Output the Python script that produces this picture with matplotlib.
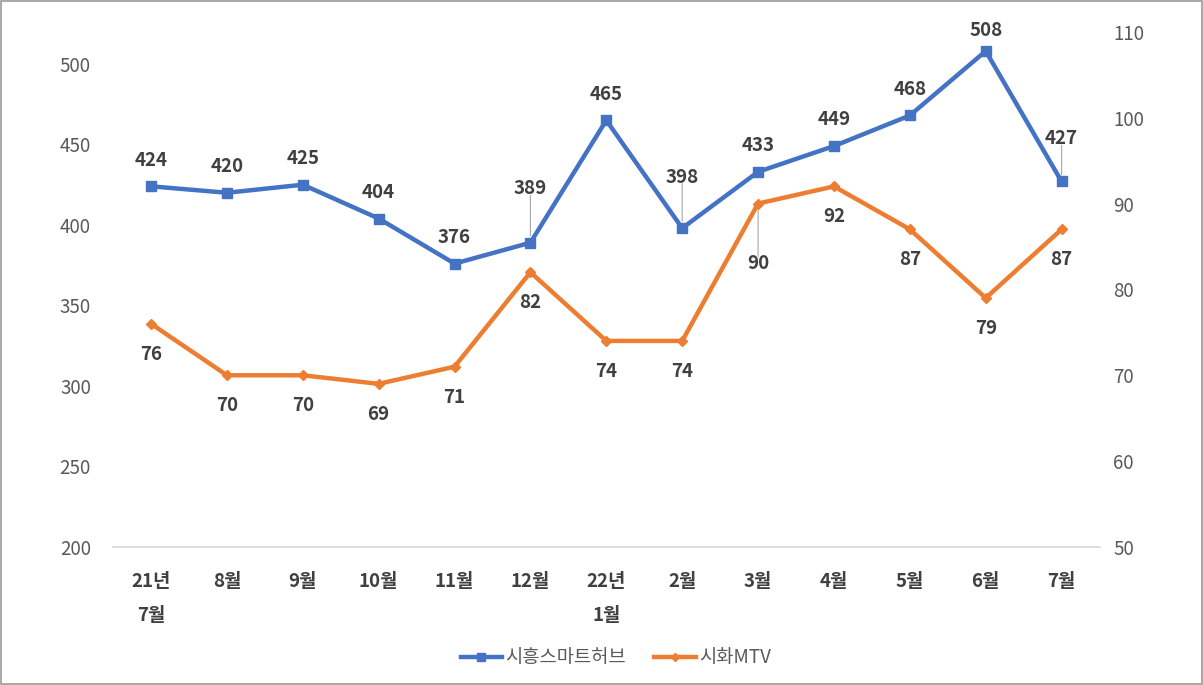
import matplotlib
matplotlib.use("Agg")
import matplotlib.pyplot as plt
from matplotlib.patches import Rectangle
from matplotlib.lines import Line2D

plt.rcParams['font.family'] = ['Noto Sans CJK KR', 'DejaVu Sans']

categories = ["21년\n7월", "8월", "9월", "10월", "11월", "12월", "22년\n1월",
              "2월", "3월", "4월", "5월", "6월", "7월"]
siheung = [424, 420, 425, 404, 376, 389, 465, 398, 433, 449, 468, 508, 427]
sihwa = [76, 70, 70, 69, 71, 82, 74, 74, 90, 92, 87, 79, 87]
series_names = ["시흥스마트허브", "시화MTV"]
left_ticks = [200, 250, 300, 350, 400, 450, 500]
right_ticks = [50, 60, 70, 80, 90, 100, 110]

# label offsets in points (style)
blue_off = [12, 12, 12, 12, 12, 32, 12, 30, 12, 12, 12, 8, 24]
orange_off = [-15, -15, -15, -15, -15, -15, -15, -15, -36, -15, -15, -15, -15]
blue_leader = [False]*5 + [True, False, True] + [False]*4 + [True]
orange_leader = [False]*8 + [True] + [False]*4

BLUE = "#4472C4"
ORANGE = "#ED7D31"
TXT = "#404040"
TICK = "#595959"
FS = 13.5

fig = plt.figure(figsize=(12.03, 6.85), dpi=100)
ax = fig.add_axes([0.094, 0.2015, 0.82, 0.7545])
ax2 = ax.twinx()

x = list(range(len(categories)))
ax.plot(x, siheung, color=BLUE, lw=3.2, marker='s', ms=7.5, zorder=3)
ax2.plot(x, sihwa, color=ORANGE, lw=3.2, marker='D', ms=5, zorder=3)

ax.set_xlim(-0.5, len(categories) - 0.5)
ax.set_ylim(200, 521)
ax2.set_ylim(50, 110.2)
ax.set_yticks(left_ticks)
ax2.set_yticks(right_ticks)

for a in (ax, ax2):
    for s in a.spines.values():
        s.set_visible(False)
    a.tick_params(length=0, labelsize=FS, colors=TICK)
ax.tick_params(axis='y', pad=16)
ax2.tick_params(axis='y', pad=10)
ax.set_xticks(x)
ax.set_xticklabels(categories, fontsize=FS, color=TXT, fontweight='bold', linespacing=2.0, va='top')
ax.tick_params(axis='x', pad=18)
ax.axhline(200, color="#D9D9D9", lw=1.2, zorder=1, clip_on=False)

for i, v in enumerate(siheung):
    ax.annotate(str(v), (i, v), xytext=(0, blue_off[i]), textcoords='offset points',
                ha='center', va='bottom', fontsize=FS, fontweight='bold', color=TXT)
    if blue_leader[i]:
        ax.annotate("", (i, v), xytext=(0, blue_off[i] + 2), textcoords='offset points',
                    arrowprops=dict(arrowstyle='-', color='#A6A6A6', lw=0.8, shrinkA=0, shrinkB=5))
for i, v in enumerate(sihwa):
    ax2.annotate(str(v), (i, v), xytext=(0, orange_off[i]), textcoords='offset points',
                 ha='center', va='top', fontsize=FS, fontweight='bold', color=TXT)
    if orange_leader[i]:
        ax2.annotate("", (i, v), xytext=(0, orange_off[i] - 2), textcoords='offset points',
                     arrowprops=dict(arrowstyle='-', color='#A6A6A6', lw=0.8, shrinkA=0, shrinkB=5))

handles = [Line2D([], [], color=BLUE, lw=3.2, marker='s', ms=6),
           Line2D([], [], color=ORANGE, lw=3.2, marker='D', ms=4)]
fig.legend(handles, series_names, loc='center', bbox_to_anchor=(0.512, 0.04), ncol=2,
           frameon=False, fontsize=FS, handlelength=2.2, handletextpad=0.2,
           columnspacing=1.5, labelcolor=TICK)

fig.patches.append(Rectangle((0.001, 0.001), 0.998, 0.997, transform=fig.transFigure,
                             fill=False, edgecolor='#9A9A9A', lw=1.2))

fig.savefig("out.png", dpi=100, facecolor='white')
